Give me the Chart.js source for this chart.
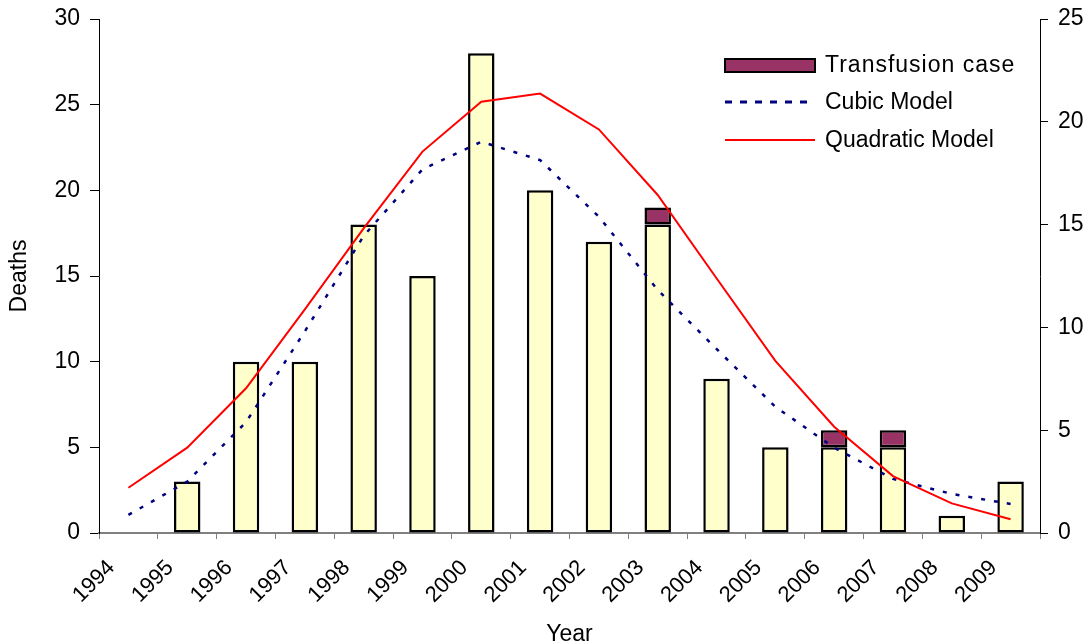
<!DOCTYPE html>
<html>
<head>
<meta charset="utf-8">
<script src="https://cdn.jsdelivr.net/npm/chart.js@4/dist/chart.umd.min.js"></script>
<style>
  html, body { margin: 0; padding: 0; background: #ffffff; }
  #wrap { width: 1089px; height: 643px; position: relative; }
</style>
</head>
<body>
<div id="wrap"><canvas id="chart" width="1089" height="643"></canvas></div>
<script>
// Years on the category axis
const years = ['1994','1995','1996','1997','1998','1999','2000','2001','2002','2003','2004','2005','2006','2007','2008','2009'];

// Deaths per year (left axis), excluding transfusion cases
const deaths = [null, 3, 10, 10, 18, 15, 28, 20, 17, 18, 9, 5, 5, 5, 1, 3];

// Transfusion-related deaths stacked on top (left axis)
const transfusion = [null, null, null, null, null, null, null, null, null, 1, null, null, 1, 1, null, null];

// Fitted models (right axis)
const cubicModel = [0.88, 2.5, 5.39, 9.81, 14.45, 17.69, 19.03, 18.14, 15.38, 11.82, 8.95, 6.14, 4.15, 2.63, 1.9, 1.41];
const quadraticModel = [2.2, 4.15, 7.04, 10.88, 14.82, 18.55, 20.98, 21.37, 19.63, 16.44, 12.39, 8.37, 5.17, 2.77, 1.44, 0.67];

// Axis ranges and tick steps
const leftAxis = { min: 0, max: 30, step: 5 };
const rightAxis = { min: 0, max: 25, step: 5 };

const FONT = 'Liberation Sans, Arial, sans-serif';
const YELLOW = '#FFFFCC';
const PLUM = '#993366';
const NAVY = '#000080';
const RED = '#FF0000';

// Legend for the stacked segment and the two model curves
const legendItems = [
  { text: 'Transfusion case', kind: 'box' },
  { text: 'Cubic Model', kind: 'dash' },
  { text: 'Quadratic Model', kind: 'solid' }
];

const sideLegend = {
  id: 'sideLegend',
  afterDraw(chart) {
    const ctx = chart.ctx;
    const x0 = 725, x1 = 815, tx = 825;
    const rows = [65, 102, 140];
    ctx.save();
    ctx.font = '23px ' + FONT;
    ctx.fillStyle = '#000000';
    ctx.textBaseline = 'middle';
    ctx.textAlign = 'left';
    legendItems.forEach((item, i) => {
      const y = rows[i];
      if (item.kind === 'box') {
        ctx.fillStyle = PLUM;
        ctx.fillRect(x0, y - 6, x1 - x0, 13);
        ctx.lineWidth = 2;
        ctx.strokeStyle = '#000000';
        ctx.strokeRect(x0, y - 6, x1 - x0, 13);
      } else {
        ctx.beginPath();
        ctx.moveTo(x0, y);
        ctx.lineTo(x1, y);
        ctx.lineWidth = item.kind === 'dash' ? 3 : 2;
        ctx.strokeStyle = item.kind === 'dash' ? NAVY : RED;
        ctx.setLineDash(item.kind === 'dash' ? [7, 8] : []);
        ctx.stroke();
        ctx.setLineDash([]);
      }
      ctx.fillStyle = '#000000';
      ctx.letterSpacing = item.kind === 'box' ? '1px' : '0px';
      ctx.fillText(item.text, tx, y + 1);
    });
    ctx.restore();
  }
};

// Vertical axes: fixed width, and no extra top/bottom room for end labels
function fitVertical(width) {
  return function (scale) {
    scale.width = width;
    scale.paddingTop = 0;
    scale.paddingBottom = 0;
  };
}

new Chart(document.getElementById('chart'), {
  type: 'bar',
  data: {
    labels: years,
    datasets: [
      {
        type: 'line',
        label: 'Quadratic Model',
        data: quadraticModel,
        yAxisID: 'y1',
        borderColor: RED,
        borderWidth: 2,
        pointRadius: 0,
        tension: 0,
        fill: false,
        order: 0
      },
      {
        type: 'line',
        label: 'Cubic Model',
        data: cubicModel,
        yAxisID: 'y1',
        borderColor: NAVY,
        borderWidth: 2.5,
        borderDash: [4, 9],
        pointRadius: 0,
        tension: 0,
        fill: false,
        order: 0
      },
      {
        label: 'Deaths',
        data: deaths,
        yAxisID: 'y',
        backgroundColor: YELLOW,
        borderColor: '#000000',
        borderWidth: 2.5,
        borderSkipped: false,
        categoryPercentage: 1,
        barPercentage: 0.45,
        stack: 's',
        order: 1
      },
      {
        label: 'Transfusion case',
        data: transfusion,
        yAxisID: 'y',
        backgroundColor: PLUM,
        borderColor: '#000000',
        borderWidth: 2.5,
        borderSkipped: false,
        categoryPercentage: 1,
        barPercentage: 0.45,
        stack: 's',
        order: 1
      }
    ]
  },
  options: {
    responsive: false,
    animation: false,
    layout: { padding: { top: 19, right: 0, bottom: 0, left: 0 } },
    plugins: {
      legend: { display: false },
      tooltip: { enabled: false }
    },
    scales: {
      x: {
        stacked: true,
        grid: { display: true, drawOnChartArea: false, drawTicks: true, tickLength: 6, color: '#808080', offset: true },
        border: { display: true, color: '#808080', width: 2 },
        ticks: {
          color: '#000000',
          font: { family: FONT, size: 22 },
          maxRotation: 45,
          minRotation: 45,
          autoSkip: false,
          padding: 16,
          labelOffset: -17
        },
        title: {
          display: true,
          text: 'Year',
          color: '#000000',
          font: { family: FONT, size: 23 },
          padding: { top: 0, bottom: -5 }
        },
        afterFit(scale) { scale.height = 110; }
      },
      y: {
        position: 'left',
        stacked: true,
        min: leftAxis.min,
        max: leftAxis.max,
        grid: { display: true, drawOnChartArea: false, drawTicks: true, tickLength: 9, color: '#000000' },
        border: { display: true, color: '#000000', width: 1 },
        ticks: {
          stepSize: leftAxis.step,
          color: '#000000',
          font: { family: FONT, size: 23 },
          padding: 10
        },
        title: {
          display: true,
          text: 'Deaths',
          color: '#000000',
          font: { family: FONT, size: 23 },
          padding: { top: 6, bottom: 0 }
        },
        afterFit: fitVertical(99)
      },
      y1: {
        position: 'right',
        min: rightAxis.min,
        max: rightAxis.max,
        grid: { display: true, drawOnChartArea: false, drawTicks: true, tickLength: 8, color: '#000000' },
        border: { display: true, color: '#000000', width: 1 },
        ticks: {
          stepSize: rightAxis.step,
          color: '#000000',
          font: { family: FONT, size: 23 },
          padding: 10
        },
        afterFit: fitVertical(49)
      }
    }
  },
  plugins: [sideLegend]
});
</script>
</body>
</html>
